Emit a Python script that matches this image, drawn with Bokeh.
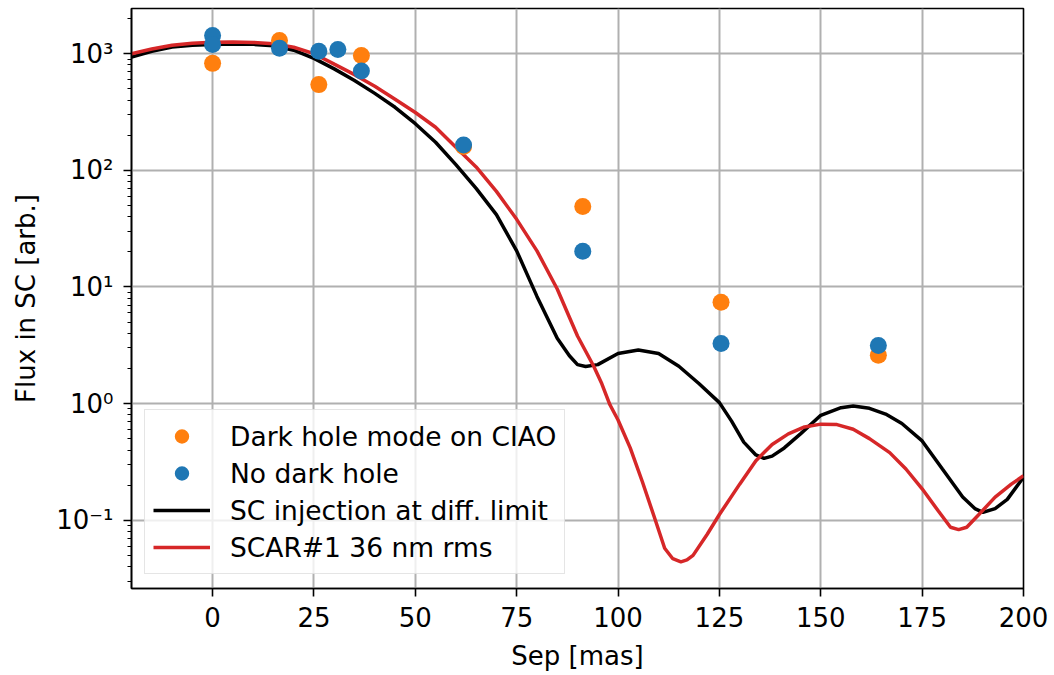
from bokeh.plotting import figure
from bokeh.models import (Range1d, FixedTicker, CustomJSTickFormatter, Legend,
                          LegendItem)
from bokeh.embed import file_html
from bokeh.resources import INLINE

# ---- data ----
sep_black = [-20, -15, -10, -5, 0, 5, 10, 15, 20, 25, 30, 35, 40, 45, 50, 55, 60,
             65, 70, 75, 80, 85, 88, 90, 92, 95, 100, 105, 110, 115, 120, 125,
             128, 131, 134, 136, 138, 141, 145, 150, 155, 158, 162, 166, 170,
             175, 180, 185, 188, 190, 193, 196, 200]
flux_black = [935, 1047, 1143, 1180, 1200, 1211, 1202, 1167, 1072, 912, 741, 589,
              457, 347, 251, 174, 112, 70, 41.7, 20.4, 8.3, 3.63, 2.57, 2.16,
              2.08, 2.16, 2.69, 2.88, 2.69, 2.09, 1.48, 1.02, 0.708, 0.468,
              0.363, 0.339, 0.355, 0.417, 0.55, 0.794, 0.923, 0.955, 0.912,
              0.813, 0.676, 0.479, 0.275, 0.158, 0.126, 0.117, 0.126, 0.151,
              0.234]

sep_red = [-20, -15, -10, -5, 0, 5, 10, 15, 20, 25, 30, 35, 40, 45, 50, 55, 60,
           65, 70, 75, 80, 85, 88, 90, 94, 96, 98, 100, 103, 106, 109, 111.5,
           113.5, 115.5, 117, 118.5, 122, 125, 130, 134, 138, 142, 146, 150,
           154, 158, 162, 167, 171, 175, 179, 182, 184, 186, 189, 193, 197, 200]
flux_red = [1000, 1096, 1180, 1230, 1256, 1259, 1250, 1216, 1135, 1000, 813, 661,
            525, 407, 313, 234, 158, 107, 66, 38, 20.4, 9.6, 5.5, 3.8, 2.09,
            1.48, 0.977, 0.724, 0.417, 0.214, 0.105, 0.0575, 0.0468, 0.044,
            0.0457, 0.050, 0.0759, 0.112, 0.204, 0.324, 0.447, 0.55, 0.631,
            0.667, 0.661, 0.603, 0.501, 0.380, 0.275, 0.186, 0.120, 0.0871,
            0.0832, 0.0871, 0.112, 0.158, 0.204, 0.241]

sep_darkhole = [0, 16.5, 26.2, 36.7, 61.9, 91.3, 125.4, 164.2]
flux_darkhole = [826, 1300, 543, 967, 160, 48.9, 7.4, 2.6]

sep_nodark = [0, 0, 16.5, 26.2, 30.9, 36.7, 61.9, 91.3, 125.4, 164.2]
flux_nodark = [1432, 1200, 1116, 1047, 1088, 710, 165, 20.2, 3.27, 3.15]

x_ticks = [0, 25, 50, 75, 100, 125, 150, 175, 200]
y_ticks = [0.1, 1, 10, 100, 1000]
y_minor = [m * 10.0 ** e for e in range(-2, 4) for m in range(2, 10)]

FONT = "DejaVu Sans"

p = figure(width=1048, height=673, y_axis_type="log",
           x_range=Range1d(-20, 200), y_range=Range1d(0.026, 2440),
           output_backend="svg", toolbar_location=None,
           min_border_left=131, min_border_right=25, min_border_top=8,
           min_border_bottom=83)

p.outline_line_color = "black"
p.outline_line_width = 1.6
p.outline_line_alpha = 1

p.xaxis.ticker = FixedTicker(ticks=x_ticks, minor_ticks=[])
p.yaxis.ticker = FixedTicker(ticks=y_ticks, minor_ticks=y_minor)

p.yaxis.formatter = CustomJSTickFormatter(code="""
const sup = {"-": "\u207b", "0": "\u2070", "1": "\u00b9", "2": "\u00b2",
             "3": "\u00b3", "4": "\u2074", "5": "\u2075", "6": "\u2076",
             "7": "\u2077", "8": "\u2078", "9": "\u2079"};
const e = Math.round(Math.log10(tick));
return "10" + String(e).split("").map(c => sup[c]).join("");
""")

for ax in (p.xaxis[0], p.yaxis[0]):
    ax.axis_line_color = "black"
    ax.axis_line_width = 1.6
    ax.major_tick_line_color = "black"
    ax.major_tick_line_width = 1.6
    ax.major_tick_in = 0
    ax.major_tick_out = 8
    ax.minor_tick_line_color = "black"
    ax.minor_tick_line_width = 1.2
    ax.minor_tick_in = 0
    ax.minor_tick_out = 4
    ax.major_label_text_font = FONT
    ax.major_label_text_font_size = "26px"
    ax.major_label_text_color = "black"
    ax.axis_label_text_font = FONT
    ax.axis_label_text_font_size = "26px"
    ax.axis_label_text_font_style = "normal"
    ax.axis_label_text_color = "black"

p.xaxis.axis_label = "Sep [mas]"
p.yaxis.axis_label = "Flux in SC [arb.]"
p.xaxis.major_label_standoff = 10
p.xaxis.axis_label_standoff = 11
p.yaxis.major_label_standoff = 10
p.yaxis.axis_label_standoff = 12

p.xgrid.grid_line_color = "#b0b0b0"
p.ygrid.grid_line_color = "#b0b0b0"
p.xgrid.grid_line_width = 2
p.ygrid.grid_line_width = 2

r_black = p.line(sep_black, flux_black, line_color="black", line_width=3.5)
r_red = p.line(sep_red, flux_red, line_color="#d62728", line_width=3.5)
r_dh = p.scatter(sep_darkhole, flux_darkhole, size=17, marker="circle",
                 fill_color="#ff7f0e", line_color="#ff7f0e", line_width=0)
r_nd = p.scatter(sep_nodark, flux_nodark, size=17, marker="circle",
                 fill_color="#1f77b4", line_color="#1f77b4", line_width=0)

legend = Legend(items=[
    LegendItem(label="Dark hole mode on CIAO", renderers=[r_dh]),
    LegendItem(label="No dark hole", renderers=[r_nd]),
    LegendItem(label="SC injection at diff. limit", renderers=[r_black]),
    LegendItem(label="SCAR#1 36 nm rms", renderers=[r_red]),
], location=(13, 14))
legend.label_text_font = FONT
legend.label_text_font_size = "26.5px"
legend.label_text_color = "black"
legend.glyph_width = 57
legend.glyph_height = 36
legend.spacing = 1
legend.padding = 8
legend.margin = 0
legend.label_standoff = 20
legend.border_line_color = "#cccccc"
legend.border_line_width = 1.5
legend.background_fill_alpha = 0.8
p.add_layout(legend)

open("out.html", "w").write(file_html(p, INLINE))
